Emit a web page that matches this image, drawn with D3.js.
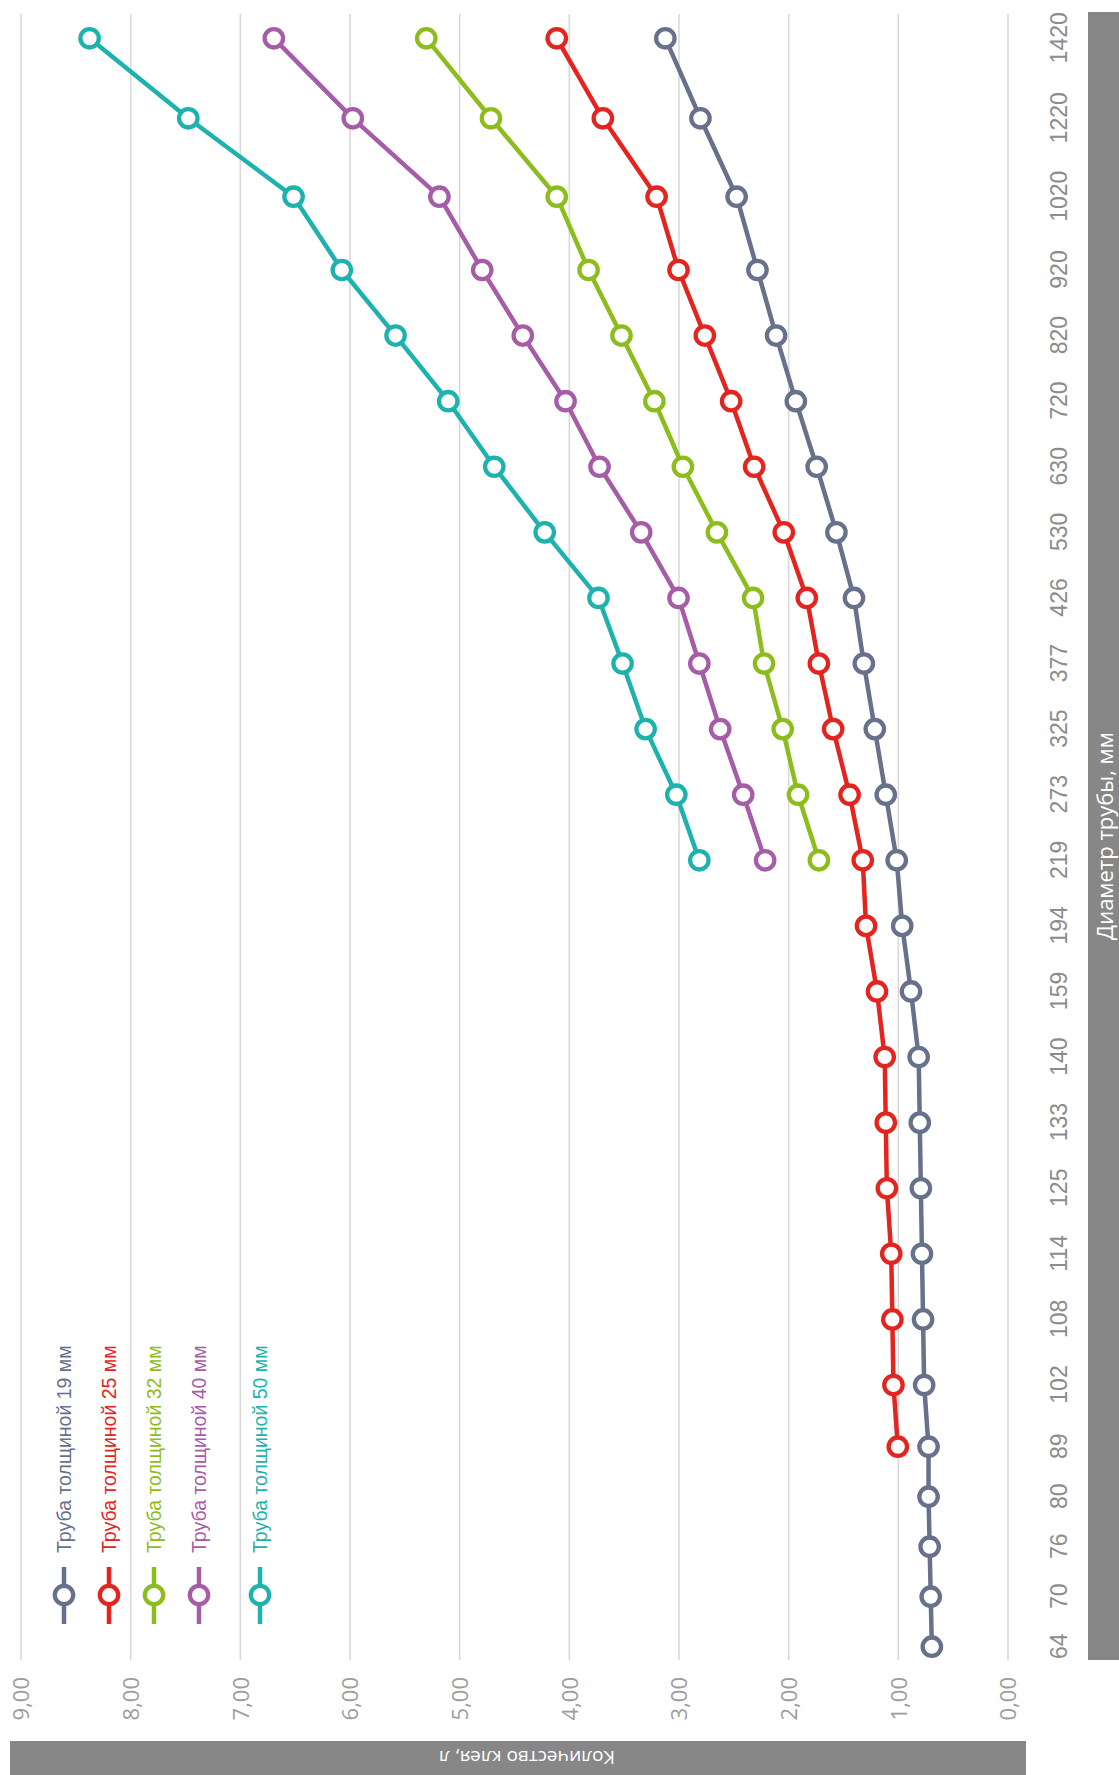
<!DOCTYPE html>
<html>
<head>
<meta charset="utf-8">
<script src="https://cdn.jsdelivr.net/npm/d3@7"></script>
<style>
  html, body { margin: 0; padding: 0; background: #fff; }
  svg { display: block; }
</style>
</head>
<body>
<svg id="chart" width="1119" height="1775"></svg>
<script>
// Pipe outer diameter, mm
const diameters = ["64","70","76","80","89","102","108","114","125","133","140","159","194",
                   "219","273","325","377","426","530","630","720","820","920","1020","1220","1420"];

// Adhesive amount, litres, per insulation thickness (null where no value is given)
const thick19 = [0.69,0.70,0.71,0.72,0.72,0.76,0.77,0.78,0.79,0.80,0.81,0.88,0.96,
                 1.01,1.11,1.21,1.31,1.40,1.56,1.74,1.93,2.11,2.28,2.47,2.80,3.12];
const thick25 = [null,null,null,null,1.00,1.04,1.05,1.06,1.10,1.11,1.12,1.19,1.29,
                 1.32,1.44,1.59,1.72,1.83,2.04,2.31,2.52,2.76,3.00,3.20,3.69,4.11];
const thick32 = [null,null,null,null,null,null,null,null,null,null,null,null,null,
                 1.72,1.91,2.05,2.22,2.32,2.65,2.96,3.22,3.52,3.82,4.11,4.71,5.30];
const thick40 = [null,null,null,null,null,null,null,null,null,null,null,null,null,
                 2.21,2.41,2.62,2.81,3.00,3.34,3.72,4.03,4.42,4.79,5.18,5.97,6.69];
const thick50 = [null,null,null,null,null,null,null,null,null,null,null,null,null,
                 2.81,3.02,3.30,3.51,3.73,4.22,4.68,5.10,5.58,6.07,6.51,7.47,8.37];

const seriesNames = ["Труба толщиной 19 мм","Труба толщиной 25 мм","Труба толщиной 32 мм",
                     "Труба толщиной 40 мм","Труба толщиной 50 мм"];
const seriesColors = ["#67718c","#e3241f","#8dbd1d","#a65ca7","#1db2ae"];
const valueTicks = [0,1,2,3,4,5,6,7,8,9];

const xTitle = "Диаметр трубы, мм";
const yTitle = "Количество клея, л";

const series = [thick19, thick25, thick32, thick40, thick50].map((values, k) => ({
  name: seriesNames[k], color: seriesColors[k], values
}));

const W = 1119, H = 1775;
const svg = d3.select("#chart");

// The chart is built in a landscape frame (H wide, W tall) and turned a quarter turn counter-clockwise.
const g = svg.append("g").attr("transform", `translate(0,${H}) rotate(-90)`);

const plotLeft = 115, plotRight = 1761;
const sansFont = "'Liberation Sans', Arial, sans-serif";

// Category axis: the first diameters sit closer together, the last ones further apart.
const idx = diameters.map((d, i) => i);
const x = d3.scaleLinear()
  .domain([0, 4, 5, 22, 23, 24, 25])
  .range([128.3, 328.3, 390, 1505, 1578.3, 1656.7, 1736.7]);

const y = d3.scaleLinear().domain([0, 9]).range([1007.5, 20.5]);

// Value gridlines and tick labels
const yAxis = d3.axisLeft(y)
  .tickValues(valueTicks)
  .tickSize(-(plotRight - plotLeft))
  .tickPadding(17)
  .tickFormat(v => v.toFixed(2).replace(".", ","));
const yg = g.append("g").attr("transform", `translate(${plotLeft},0)`).call(yAxis);
yg.select(".domain").remove();
yg.selectAll(".tick line").attr("stroke", "#d9d9d9").attr("stroke-width", 1.6);
yg.selectAll(".tick text")
  .attr("fill", "#9d9d9d")
  .attr("font-family", "'Open Sans', 'DejaVu Sans', sans-serif")
  .attr("font-size", 22)
  .attr("dy", "0.38em");

// Category tick labels
const xAxis = d3.axisBottom(x)
  .tickValues(idx)
  .tickSize(0)
  .tickFormat(i => diameters[i]);
const xg = g.append("g").attr("transform", "translate(0,1067)").call(xAxis);
xg.select(".domain").remove();
xg.selectAll(".tick text")
  .attr("y", 0).attr("dy", 0)
  .attr("fill", "#8c8c8c")
  .attr("font-family", sansFont)
  .attr("font-size", 23);

// Category axis title bar
g.append("rect")
  .attr("x", plotLeft).attr("y", 1088)
  .attr("width", 1763 - plotLeft).attr("height", 40)
  .attr("fill", "#878787");
g.append("text")
  .attr("x", (plotLeft + 1763) / 2).attr("y", 1104)
  .attr("text-anchor", "middle").attr("dominant-baseline", "central")
  .attr("fill", "#fff")
  .attr("font-family", "'Open Sans', 'DejaVu Sans', sans-serif")
  .attr("font-size", 22)
  .text(xTitle);

// Value axis title bar
g.append("rect")
  .attr("x", -10).attr("y", 10)
  .attr("width", 44).attr("height", 1016)
  .attr("fill", "#878787");
g.append("text")
  .attr("transform", `translate(17,527) rotate(-90)`)
  .attr("text-anchor", "middle").attr("dominant-baseline", "central")
  .attr("fill", "#fff")
  .attr("font-family", "'Open Sans', 'DejaVu Sans', sans-serif")
  .attr("font-size", 19)
  .text(yTitle);

// Series lines and ring markers
const line = d3.line()
  .defined(d => d.v != null)
  .x(d => x(d.i))
  .y(d => y(d.v));

const sg = g.selectAll(".series").data(series).join("g").attr("class", "series");
sg.append("path")
  .attr("d", s => line(s.values.map((v, i) => ({ i, v }))))
  .attr("fill", "none")
  .attr("stroke", s => s.color)
  .attr("stroke-width", 4.5)
  .attr("stroke-linejoin", "round");
sg.selectAll("circle")
  .data(s => s.values.map((v, i) => ({ i, v, color: s.color })).filter(d => d.v != null))
  .join("circle")
  .attr("cx", d => x(d.i))
  .attr("cy", d => y(d.v))
  .attr("r", 9.2)
  .attr("fill", "#fff")
  .attr("stroke", d => d.color)
  .attr("stroke-width", 4.3);

// Legend
const legendY = d3.scaleLinear().domain([0, 3, 4]).range([64, 199, 260]);
const lg = g.selectAll(".legend").data(series).join("g")
  .attr("class", "legend")
  .attr("transform", (s, k) => `translate(0,${legendY(k)})`);
lg.append("line")
  .attr("x1", 151).attr("x2", 208)
  .attr("stroke", s => s.color).attr("stroke-width", 4.5);
lg.append("circle")
  .attr("cx", 180).attr("r", 9.2)
  .attr("fill", "#fff").attr("stroke", s => s.color).attr("stroke-width", 4.3);
lg.append("text")
  .attr("x", 222).attr("dy", "0.36em")
  .attr("fill", s => s.color)
  .attr("font-family", sansFont)
  .attr("font-size", 19.5)
  .text(s => s.name);
</script>
</body>
</html>
